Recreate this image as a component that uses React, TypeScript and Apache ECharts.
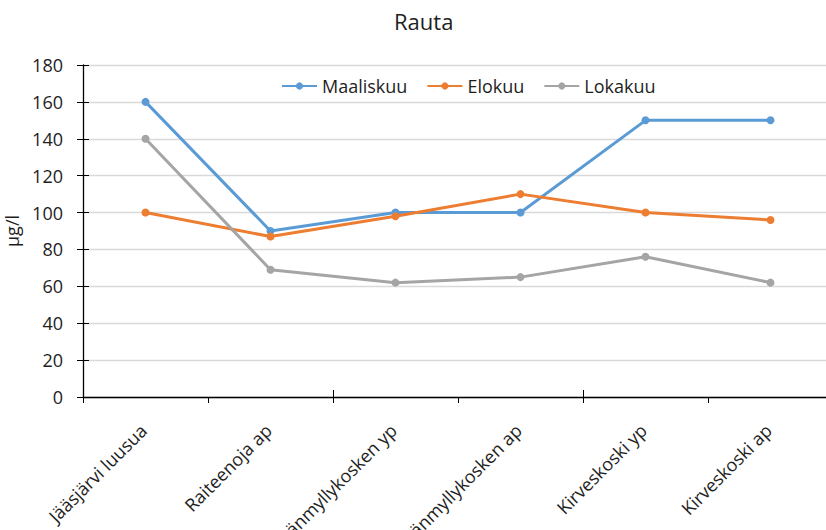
import React, { useEffect, useRef } from "react";
import * as echarts from "echarts";

const title = "Rauta";
const categories = [
  "Jääsjärvi luusua",
  "Raiteenoja ap",
  "Pitkänmyllykosken yp",
  "Pitkänmyllykosken ap",
  "Kirveskoski yp",
  "Kirveskoski ap",
];
const seriesNames = ["Maaliskuu", "Elokuu", "Lokakuu"];
const maaliskuu = [160, 90, 100, 100, 150, 150];
const elokuu = [100, 87, 98, 110, 100, 96];
const lokakuu = [140, 69, 62, 65, 76, 62];
const colors = ["#5B9BD5", "#ED7D31", "#A5A5A5"];
const yName = "µg/l";

export default function App() {
  const ref = useRef<HTMLDivElement>(null);
  useEffect(() => {
    if (!ref.current) return;
    const chart = echarts.init(ref.current, undefined, { renderer: "svg" });
    const font = "'Open Sans', sans-serif";
    const textColor = "#1e1e1e";
    const mk = (name: string, data: number[], color: string) => ({
      name,
      type: "line",
      data,
      xAxisIndex: 0,
      yAxisIndex: 0,
      symbol: "circle",
      symbolSize: 8,
      lineStyle: { width: 3, color },
      itemStyle: { color },
    });
    chart.setOption({
      animation: false,
      textStyle: { fontFamily: font },
      title: {
        text: title,
        left: 389,
        top: 5,
        textStyle: { fontFamily: font, fontSize: 22, fontWeight: "normal", color: textColor },
      },
      legend: {
        left: 276,
        top: 72,
        itemWidth: 35,
        itemHeight: 9,
        itemGap: 19,
        textStyle: { fontFamily: font, fontSize: 18, color: textColor },
        data: seriesNames,
      },
      grid: {
        left: 83,
        right: 0,
        top: 65,
        bottom: 133,
        containLabel: false,
        outerBoundsMode: "none",
      },
      xAxis: [
        {
          type: "category",
          data: categories,
          boundaryGap: true,
          axisLine: { lineStyle: { color: "#000", width: 1.3 } },
          axisTick: { show: true, length: 6, lineStyle: { color: "#000" } },
          axisLabel: {
            rotate: 45,
            interval: 0,
            fontFamily: font,
            fontSize: 18,
            color: textColor,
            margin: 28,
            padding: [0, 3, 0, 0],
          },
        },
        {
          type: "category",
          data: categories,
          position: "bottom",
          boundaryGap: true,
          axisLine: { show: false },
          axisTick: { show: true, inside: true, length: 7, lineStyle: { color: "#000" } },
          axisLabel: { show: false },
        },
      ],
      yAxis: [
        {
          type: "value",
          min: 0,
          max: 180,
          interval: 20,
          name: yName,
          nameLocation: "middle",
          nameGap: 58,
          nameTextStyle: { fontFamily: font, fontSize: 18, color: textColor },
          axisLine: { show: true, lineStyle: { color: "#000", width: 1.3 } },
          axisTick: { show: true, length: 6, lineStyle: { color: "#000" } },
          axisLabel: { fontFamily: font, fontSize: 18, color: textColor, margin: 20 },
          splitLine: { show: true, lineStyle: { color: "#d9d9d9", width: 1.3 } },
        },
        {
          type: "value",
          min: 0,
          max: 180,
          interval: 20,
          position: "left",
          axisLine: { show: false },
          axisTick: { show: true, inside: true, length: 6, lineStyle: { color: "#000" } },
          axisLabel: { show: false },
          splitLine: { show: false },
        },
      ],
      series: [
        mk(seriesNames[0], maaliskuu, colors[0]),
        mk(seriesNames[1], elokuu, colors[1]),
        mk(seriesNames[2], lokakuu, colors[2]),
      ],
    });
    return () => chart.dispose();
  }, []);
  return (
    <div
      style={{ position: "fixed", left: 0, top: 0, width: 826, height: 530, overflow: "hidden", background: "#fff" }}
    >
      <div ref={ref} style={{ width: 833, height: 530 }} />
    </div>
  );
}
